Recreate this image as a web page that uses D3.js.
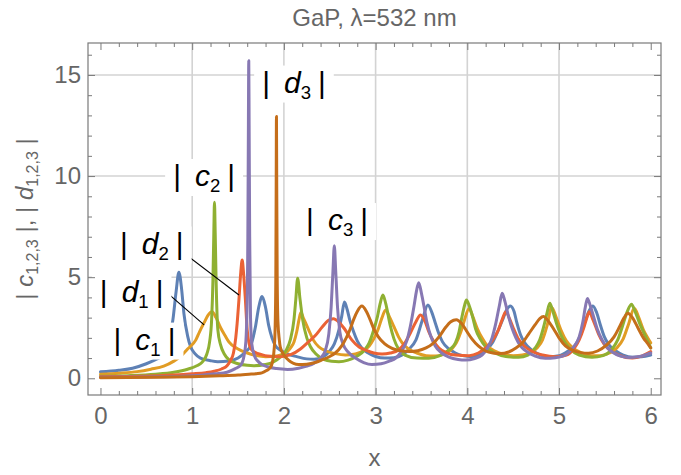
<!DOCTYPE html>
<html><head><meta charset="utf-8">
<script src="https://cdn.jsdelivr.net/npm/d3@7"></script>
<style>body{margin:0;background:#fff}svg{display:block}</style>
</head><body><svg id="c" width="681" height="475"></svg>
<script>
// ---------- data ----------
const xTicks=[0,1,2,3,4,5,6];
const yTicks=[0,5,10,15];
const xGridValues=[1,2,3,4,5];
const yGridValues=[5,10,15];
const seriesNames=["c1","d1","c2","d2","c3","d3"];
const c1Values=[[0,0.32],[0.2,0.4],[0.35,0.5],[0.5,0.72],[0.6,0.92],[0.69,1.15],[0.75,1.9],[0.79,2.9],[0.825,4.3],[0.855,5.25],[0.885,4.4],[0.91,3.2],[0.95,2.1],[0.98,1.6],[1.03,1.22],[1.09,1.0],[1.2,0.87],[1.28,0.82],[1.4,0.85],[1.5,1.0],[1.58,1.3],[1.636,1.6],[1.69,2.55],[1.725,3.5],[1.763,4.04],[1.8,3.5],[1.835,2.6],[1.87,2.0],[1.91,1.6],[1.96,1.4],[2.04,1.2],[2.14,1.07],[2.25,0.96],[2.33,0.94],[2.42,1.05],[2.5,1.35],[2.55,1.7],[2.6,2.4],[2.63,3.05],[2.66,3.77],[2.69,3.4],[2.72,2.85],[2.76,2.3],[2.8,1.85],[2.85,1.5],[2.92,1.25],[3.0,1.08],[3.1,1.0],[3.2,1.02],[3.29,1.15],[3.36,1.42],[3.44,1.9],[3.51,2.88],[3.57,3.62],[3.61,3.3],[3.65,2.75],[3.69,2.2],[3.73,1.8],[3.8,1.45],[3.87,1.25],[3.95,1.12],[4.05,1.07],[4.15,1.2],[4.22,1.45],[4.27,1.73],[4.33,2.3],[4.39,2.95],[4.43,3.4],[4.47,3.58],[4.51,3.3],[4.54,2.75],[4.58,2.15],[4.63,1.73],[4.7,1.4],[4.8,1.15],[4.89,1.07],[5.0,1.12],[5.1,1.35],[5.18,1.65],[5.24,2.2],[5.29,2.88],[5.33,3.35],[5.37,3.58],[5.41,3.25],[5.45,2.65],[5.49,2.1],[5.54,1.68],[5.62,1.35],[5.7,1.15],[5.8,1.04],[5.9,1.06],[6.0,1.15]];
const d1Values=[[0,0.2],[0.2,0.25],[0.4,0.33],[0.55,0.45],[0.69,0.6],[0.8,0.85],[0.87,1.07],[0.95,1.45],[1.04,1.9],[1.08,2.3],[1.13,2.75],[1.17,3.1],[1.218,3.29],[1.26,3.0],[1.31,2.5],[1.36,2.1],[1.4,1.8],[1.5,1.45],[1.6,1.25],[1.7,1.12],[1.8,1.07],[1.92,1.1],[2.0,1.22],[2.04,1.33],[2.08,1.55],[2.11,1.8],[2.14,2.3],[2.165,2.9],[2.185,3.25],[2.215,2.95],[2.27,2.4],[2.32,1.9],[2.38,1.56],[2.46,1.35],[2.56,1.22],[2.67,1.15],[2.78,1.2],[2.87,1.38],[2.93,1.6],[2.98,1.95],[3.03,2.45],[3.07,3.0],[3.11,3.38],[3.15,3.05],[3.2,2.55],[3.25,2.05],[3.29,1.75],[3.36,1.45],[3.45,1.25],[3.55,1.12],[3.65,1.1],[3.75,1.2],[3.83,1.45],[3.88,1.75],[3.93,2.3],[3.97,2.9],[4.02,3.45],[4.06,3.05],[4.11,2.45],[4.16,2.0],[4.22,1.6],[4.3,1.35],[4.4,1.18],[4.5,1.12],[4.6,1.15],[4.7,1.3],[4.77,1.55],[4.82,1.9],[4.87,2.6],[4.92,3.5],[4.97,3.0],[5.02,2.4],[5.08,1.85],[5.15,1.5],[5.25,1.25],[5.35,1.12],[5.45,1.12],[5.55,1.25],[5.63,1.5],[5.7,1.95],[5.76,2.7],[5.82,3.46],[5.87,3.0],[5.92,2.4],[5.96,2.05],[6.0,1.75]];
const c2Values=[[0,0.1],[0.3,0.13],[0.6,0.2],[0.8,0.3],[0.95,0.45],[1.05,0.62],[1.11,0.8],[1.16,1.2],[1.19,1.8],[1.212,2.9],[1.226,4.8],[1.236,7.2],[1.243,8.7],[1.251,7.2],[1.261,4.8],[1.28,2.4],[1.31,1.65],[1.35,1.2],[1.4,0.92],[1.5,0.72],[1.6,0.64],[1.67,0.62],[1.8,0.68],[1.89,0.82],[1.96,1.05],[2.02,1.35],[2.07,1.9],[2.11,2.9],[2.13,3.9],[2.15,4.95],[2.175,3.95],[2.205,2.9],[2.25,2.0],[2.29,1.56],[2.35,1.2],[2.44,0.92],[2.52,0.84],[2.6,0.82],[2.7,0.9],[2.8,1.1],[2.88,1.4],[2.93,1.75],[2.98,2.4],[3.02,3.05],[3.05,3.7],[3.08,4.12],[3.11,3.7],[3.16,2.6],[3.2,1.95],[3.25,1.45],[3.32,1.15],[3.45,1.0],[3.58,0.99],[3.7,1.12],[3.8,1.4],[3.87,1.75],[3.91,2.3],[3.94,3.0],[3.97,3.6],[3.99,3.87],[4.02,3.6],[4.06,3.0],[4.09,2.45],[4.14,1.95],[4.2,1.56],[4.3,1.25],[4.42,1.08],[4.56,1.04],[4.66,1.15],[4.74,1.5],[4.79,1.9],[4.83,2.5],[4.87,3.25],[4.9,3.71],[4.93,3.35],[4.97,2.75],[5.01,2.25],[5.06,1.8],[5.12,1.45],[5.22,1.15],[5.36,1.04],[5.48,1.12],[5.57,1.4],[5.64,1.9],[5.69,2.55],[5.74,3.25],[5.79,3.66],[5.83,3.3],[5.88,2.7],[5.93,2.2],[5.97,1.8],[6.0,1.5]];
const d2Values=[[0,0.08],[0.4,0.1],[0.8,0.16],[1.0,0.22],[1.15,0.28],[1.24,0.35],[1.32,0.46],[1.38,0.62],[1.42,0.9],[1.45,1.25],[1.475,2.0],[1.49,2.7],[1.51,3.9],[1.53,5.25],[1.545,5.85],[1.56,5.2],[1.58,3.9],[1.6,2.4],[1.636,1.5],[1.68,1.3],[1.75,1.18],[1.82,1.1],[1.96,1.07],[2.08,1.18],[2.18,1.45],[2.25,1.73],[2.34,2.1],[2.42,2.55],[2.48,2.85],[2.54,2.95],[2.6,2.78],[2.66,2.45],[2.74,1.9],[2.82,1.55],[2.89,1.4],[2.98,1.25],[3.07,1.2],[3.16,1.25],[3.25,1.4],[3.32,1.75],[3.38,2.25],[3.44,2.8],[3.49,3.13],[3.54,2.8],[3.58,2.3],[3.63,1.85],[3.69,1.5],[3.78,1.25],[3.87,1.15],[4.02,1.12],[4.12,1.25],[4.2,1.5],[4.27,1.85],[4.34,2.4],[4.38,2.9],[4.42,3.29],[4.46,2.95],[4.5,2.5],[4.55,2.0],[4.63,1.56],[4.72,1.3],[4.82,1.15],[4.96,1.06],[5.08,1.15],[5.16,1.45],[5.22,1.9],[5.27,2.5],[5.3,2.95],[5.33,3.29],[5.37,2.9],[5.43,2.2],[5.49,1.7],[5.54,1.45],[5.65,1.15],[5.8,1.0],[5.9,1.1],[6.0,1.32]];
const c3Values=[[0,0.05],[0.5,0.07],[0.9,0.1],[1.1,0.15],[1.25,0.22],[1.38,0.3],[1.47,0.48],[1.53,0.65],[1.565,1.1],[1.585,1.8],[1.598,3.5],[1.607,7.0],[1.613,12.5],[1.617,15.7],[1.621,12.5],[1.627,7.0],[1.636,3.0],[1.65,1.7],[1.68,1.1],[1.71,0.88],[1.76,0.68],[1.82,0.57],[1.92,0.48],[2.04,0.44],[2.16,0.5],[2.25,0.6],[2.33,0.75],[2.4,1.0],[2.45,1.35],[2.49,2.2],[2.515,3.5],[2.535,5.3],[2.55,6.55],[2.565,5.3],[2.585,3.5],[2.61,2.3],[2.645,1.7],[2.7,1.3],[2.78,1.0],[2.87,0.78],[2.96,0.68],[3.06,0.72],[3.15,0.85],[3.22,1.0],[3.29,1.4],[3.34,1.85],[3.38,2.6],[3.42,3.6],[3.445,4.3],[3.47,4.73],[3.5,4.2],[3.53,3.5],[3.56,2.75],[3.6,2.1],[3.65,1.6],[3.72,1.25],[3.8,1.05],[3.9,0.93],[3.98,0.9],[4.08,0.98],[4.16,1.15],[4.22,1.5],[4.27,2.0],[4.31,2.7],[4.35,3.6],[4.38,4.2],[4.41,3.8],[4.45,3.05],[4.49,2.45],[4.53,2.0],[4.58,1.6],[4.63,1.38],[4.74,1.1],[4.85,0.99],[4.96,1.02],[5.07,1.15],[5.15,1.5],[5.22,2.05],[5.26,2.8],[5.29,3.6],[5.31,3.95],[5.34,3.6],[5.38,3.0],[5.42,2.4],[5.47,1.9],[5.52,1.55],[5.58,1.3],[5.67,1.1],[5.76,1.03],[5.88,1.08],[6.0,1.25]];
const d3Values=[[0,0.03],[0.6,0.05],[1.0,0.08],[1.3,0.12],[1.5,0.16],[1.62,0.2],[1.7,0.23],[1.76,0.27],[1.81,0.38],[1.85,0.52],[1.875,0.8],[1.895,1.5],[1.905,2.6],[1.912,5.0],[1.916,9.5],[1.919,12.95],[1.922,9.5],[1.927,5.0],[1.935,2.8],[1.95,1.9],[1.96,1.56],[2.0,1.15],[2.05,0.9],[2.16,0.68],[2.25,0.7],[2.34,0.78],[2.42,0.92],[2.5,1.08],[2.56,1.25],[2.63,1.6],[2.68,2.0],[2.72,2.4],[2.76,2.9],[2.8,3.3],[2.85,3.57],[2.9,3.3],[2.94,2.9],[2.98,2.45],[3.03,2.05],[3.1,1.7],[3.18,1.48],[3.27,1.36],[3.37,1.32],[3.46,1.36],[3.55,1.5],[3.62,1.7],[3.7,2.1],[3.76,2.5],[3.82,2.8],[3.88,2.9],[3.94,2.7],[3.99,2.35],[4.05,1.95],[4.12,1.6],[4.2,1.35],[4.28,1.25],[4.36,1.22],[4.45,1.3],[4.53,1.5],[4.6,1.75],[4.67,2.2],[4.74,2.65],[4.79,2.95],[4.83,3.05],[4.88,2.85],[4.94,2.45],[5.0,2.0],[5.07,1.6],[5.15,1.38],[5.24,1.27],[5.32,1.24],[5.42,1.35],[5.52,1.65],[5.6,2.05],[5.66,2.55],[5.71,3.0],[5.75,3.22],[5.8,3.0],[5.86,2.5],[5.92,2.0],[5.97,1.7],[6.0,1.5]];
const seriesValues=[c1Values,d1Values,c2Values,d2Values,c3Values,d3Values];
const labelBase=["c","d","d","c","c","d"];
const labelSub=["1","1","2","2","3","3"];
const titleText="GaP, \u03BB=532 nm";

// ---------- layout ----------
const colors=["#5E81B5","#E19C24","#8FB032","#EB6235","#8778B3","#C56E1A"];
const labelAnchor=[[0.48,1.84],[0.34,4.17],[0.56,6.59],[1.13,9.93],[2.58,7.75],[2.11,14.55]];
const leaders=[null,[[0.69,4.37],[1.13,2.64]],[[0.89,6.26],[1.51,4.12]],null,null,null];
const M={l:88,r:661,t:43,b:395};
const FONT="'Liberation Sans', Arial, sans-serif";
const GRAY="#666";

const x=d3.scaleLinear().domain([-0.136,6.112]).range([M.l,M.r]);
const y=d3.scaleLinear().domain([-0.826,16.58]).range([M.b,M.t]);
const svg=d3.select("#c");
svg.append("rect").attr("width",681).attr("height",475).attr("fill","#fff");

// grid
svg.append("g").selectAll("line").data(xGridValues).join("line")
  .attr("x1",d=>x(d)).attr("x2",d=>x(d)).attr("y1",M.t).attr("y2",M.b)
  .attr("stroke","#d3d3d3").attr("stroke-width",1.6);
svg.append("g").selectAll("line").data(yGridValues).join("line")
  .attr("y1",d=>y(d)).attr("y2",d=>y(d)).attr("x1",M.l).attr("x2",M.r)
  .attr("stroke","#d3d3d3").attr("stroke-width",1.6);

// curves
svg.append("clipPath").attr("id","pc").append("rect")
  .attr("x",M.l).attr("y",M.t).attr("width",M.r-M.l).attr("height",M.b-M.t);
const line=d3.line().x(d=>x(d[0])).y(d=>y(d[1])).curve(d3.curveMonotoneX);
const gc=svg.append("g").attr("clip-path","url(#pc)");
seriesValues.forEach((vals,i)=>{
  gc.append("path").attr("d",line(vals)).attr("fill","none")
    .attr("stroke",colors[i]).attr("stroke-width",3)
    .attr("stroke-linejoin","round").attr("stroke-linecap","round");
});

// leader lines
leaders.forEach(l=>{ if(!l) return;
  svg.append("line").attr("x1",x(l[0][0])).attr("y1",y(l[0][1]))
    .attr("x2",x(l[1][0])).attr("y2",y(l[1][1])).attr("stroke","#000").attr("stroke-width",1.1);
});

// callout labels
const LFS=30;
labelBase.forEach((b,i)=>{
  const g=svg.append("g");
  const t=g.append("text").attr("font-family",FONT).attr("font-size",LFS).attr("fill","#000");
  t.append("tspan").text("|");
  t.append("tspan").attr("dx",14).attr("font-style","italic").text(b);
  t.append("tspan").attr("font-size",LFS*0.62).attr("dy",6).attr("dx",0).text(labelSub[i]);
  t.append("tspan").attr("dy",-6).attr("dx",7).text("|");
  const bb=t.node().getBBox();
  const cx=x(labelAnchor[i][0]), cy=y(labelAnchor[i][1]);
  const padX=8;
  g.insert("rect","text").attr("x",bb.x-padX).attr("y",bb.y).attr("width",bb.width+2*padX)
    .attr("height",bb.height).attr("fill","#fff");
  g.attr("transform",`translate(${cx-(bb.x+bb.width/2)},${cy-(bb.y+bb.height/2)})`);
});

// frame
svg.append("rect").attr("x",M.l).attr("y",M.t).attr("width",M.r-M.l).attr("height",M.b-M.t)
  .attr("fill","none").attr("stroke","#7a7a7a").attr("stroke-width",1.2);

// axes
const xMinor=d3.range(0,6.2,0.2).filter(v=>Math.abs(v-Math.round(v))>1e-6);
const yMinor=d3.range(0,17,1).filter(v=>v%5!==0);
function styleAxis(g){
  g.select(".domain").remove();
  g.selectAll(".tick line").attr("stroke","#7a7a7a").attr("stroke-width",1);
  g.selectAll("text").attr("font-family",FONT).attr("font-size",24).attr("fill",GRAY);
}
svg.append("g").attr("transform",`translate(0,${M.b})`)
  .call(d3.axisBottom(x).tickValues(xTicks).tickSize(-7).tickPadding(12).tickFormat(d3.format("d"))).call(styleAxis);
svg.append("g").attr("transform",`translate(0,${M.b})`)
  .call(d3.axisBottom(x).tickValues(xMinor).tickSize(-4).tickFormat("")).call(styleAxis);
svg.append("g").attr("transform",`translate(0,${M.t})`)
  .call(d3.axisTop(x).tickValues(xTicks).tickSize(-7).tickFormat("")).call(styleAxis);
svg.append("g").attr("transform",`translate(0,${M.t})`)
  .call(d3.axisTop(x).tickValues(xMinor).tickSize(-4).tickFormat("")).call(styleAxis);
svg.append("g").attr("transform",`translate(${M.l},0)`)
  .call(d3.axisLeft(y).tickValues(yTicks).tickSize(-7).tickPadding(7).tickFormat(d3.format("d"))).call(styleAxis);
svg.append("g").attr("transform",`translate(${M.l},0)`)
  .call(d3.axisLeft(y).tickValues(yMinor).tickSize(-4).tickFormat("")).call(styleAxis);
svg.append("g").attr("transform",`translate(${M.r},0)`)
  .call(d3.axisRight(y).tickValues(yTicks).tickSize(-7).tickFormat("")).call(styleAxis);
svg.append("g").attr("transform",`translate(${M.r},0)`)
  .call(d3.axisRight(y).tickValues(yMinor).tickSize(-4).tickFormat("")).call(styleAxis);

// title
svg.append("text").attr("x",(M.l+M.r)/2).attr("y",26).attr("text-anchor","middle")
  .attr("font-family",FONT).attr("font-size",24).attr("fill",GRAY).text(titleText);
// x label
svg.append("text").attr("x",(M.l+M.r)/2).attr("y",466).attr("text-anchor","middle")
  .attr("font-family",FONT).attr("font-size",24).attr("fill",GRAY).text("x");
// y label
const yl=svg.append("text").attr("transform",`translate(33,${(M.t+M.b)/2}) rotate(-90)`)
  .attr("text-anchor","middle").attr("font-family",FONT).attr("font-size",24).attr("fill",GRAY);
yl.append("tspan").text("| ");
yl.append("tspan").attr("font-style","italic").text("c");
yl.append("tspan").attr("font-size",16).attr("dy",5).text("1,2,3");
yl.append("tspan").attr("dy",-5).text(" |, | ");
yl.append("tspan").attr("font-style","italic").text("d");
yl.append("tspan").attr("font-size",16).attr("dy",5).text("1,2,3");
yl.append("tspan").attr("dy",-5).text(" |");
</script></body></html>
